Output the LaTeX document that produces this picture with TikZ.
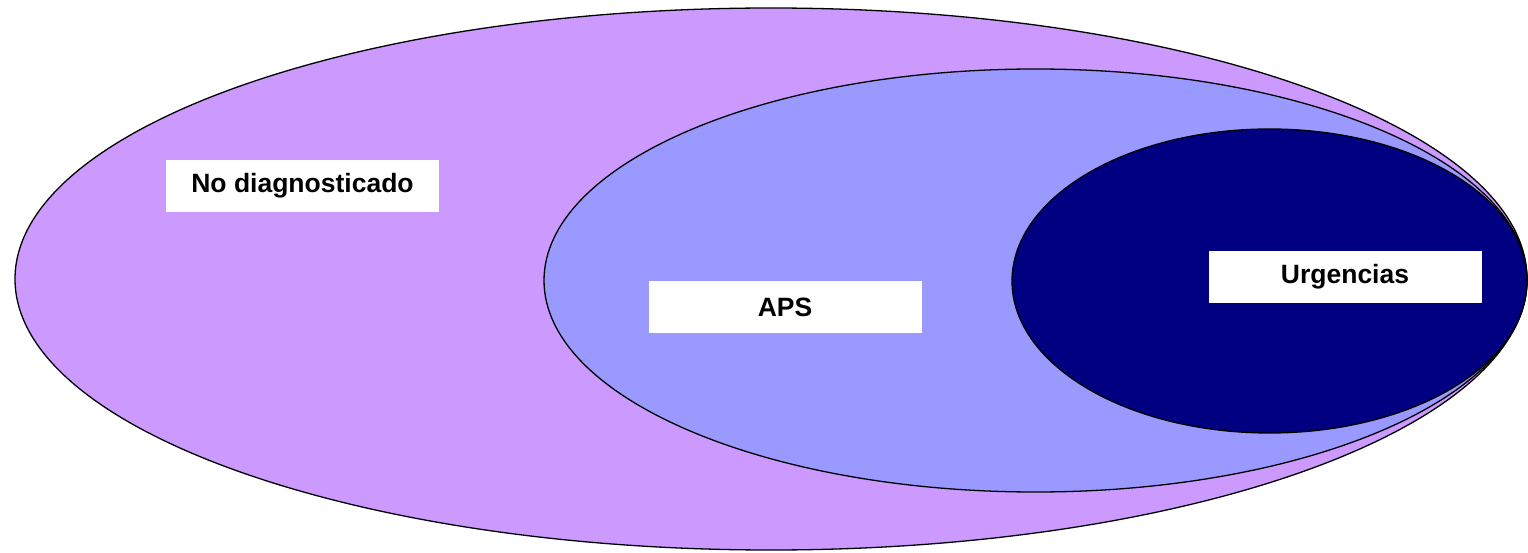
\documentclass[tikz,border=0pt]{standalone}
\usepackage{fontspec}
\setmainfont{Liberation Sans}
\definecolor{outerc}{HTML}{CC99FF}
\definecolor{midc}{HTML}{9999FF}
\definecolor{innerc}{HTML}{000080}
\begin{document}
\begin{tikzpicture}[x=1pt,y=1pt,
  ring/.style={draw=black,line width=1.3pt},
  lab/.style={fill=white,inner sep=0pt,minimum width=273pt,minimum height=52pt,font=\fontsize{26.5}{30}\selectfont\bfseries}]
\useasboundingbox (0,0) rectangle (1528,552);
\path[ring,fill=outerc] (771,273) ellipse [x radius=756, y radius=271];
\path[ring,fill=midc] (1035.5,271.5) ellipse [x radius=491.5, y radius=211.5];
\path[ring,fill=innerc] (1269.5,271) ellipse [x radius=257.5, y radius=152];
\node[lab] (nd) at (302.5,366) {No diagnosticado};
\node[lab] (aps) at (785,245) {APS};
\node[lab] (urg) at (1345,275) {Urgencias};
\end{tikzpicture}
\end{document}
